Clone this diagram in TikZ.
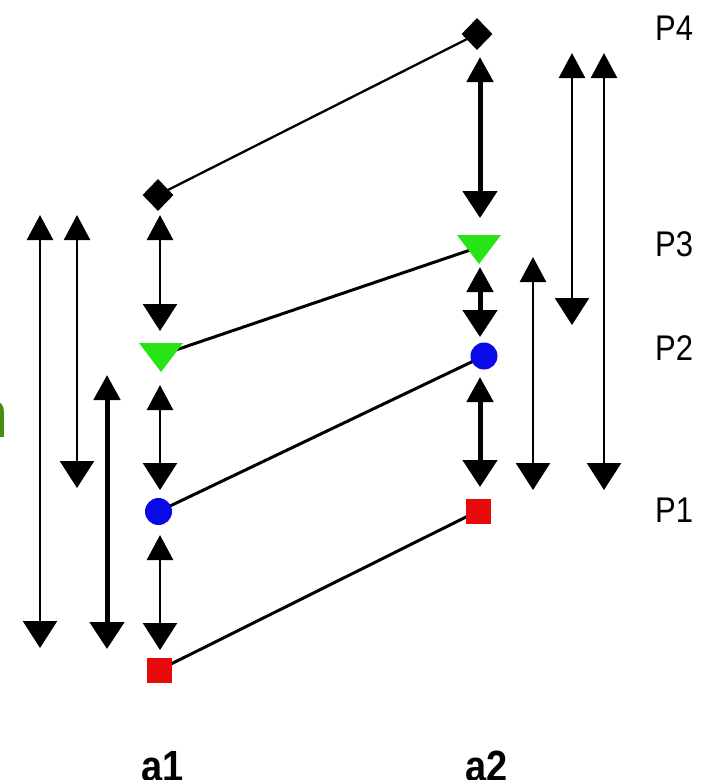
\documentclass[tikz,border=0pt]{standalone}
\usepackage{fontspec}
\setmainfont{Liberation Sans}
\usetikzlibrary{arrows.meta,shapes.geometric}
\definecolor{mkblue}{RGB}{10,10,230}
\definecolor{mkred}{RGB}{232,10,10}
\definecolor{mkgreen}{RGB}{40,228,20}
\definecolor{txtgreen}{RGB}{72,140,16}
\begin{document}
\begin{tikzpicture}[x=1pt,y=-1pt,
  conn/.style={line width=3pt},
  thinarr/.style={line width=2.5pt, arrows={Triangle[width=26pt,length=25pt]-Triangle[width=34pt,length=27pt]}},
  thickarr/.style={line width=5pt, arrows={Triangle[width=26pt,length=25pt]-Triangle[width=34pt,length=27pt]}},
  diam/.style={diamond, fill=black, inner sep=0pt, minimum width=31pt, minimum height=32pt},
  dot/.style={circle, fill=mkblue, inner sep=0pt, minimum size=27pt},
  sq/.style={rectangle, fill=mkred, inner sep=0pt, minimum size=25pt},
  plab/.style={anchor=base west, inner sep=0pt, font=\fontsize{31}{31}\selectfont},
  alab/.style={anchor=base, inner sep=0pt, font=\fontsize{38}{38}\selectfont\bfseries}
]
\useasboundingbox (0,0) rectangle (709,780);

% marker positions
\coordinate (ta) at (161,355);
\coordinate (tb) at (479,247);
\coordinate (dapos) at (158,195);
\coordinate (dbpos) at (477,34);
\coordinate (capos) at (158.5,511.5);
\coordinate (cbpos) at (484,356);
\coordinate (sapos) at (159,670);
\coordinate (sbpos) at (478,511);

% connecting lines (behind markers)
\draw[conn, line width=2.3pt] (dapos) -- (dbpos);
\draw[conn] (ta) -- (tb);
\draw[conn] (capos) -- (cbpos);
\draw[conn] (sapos) -- (sbpos);

% markers
\node[diam] (da) at (dapos) {};
\node[diam] (db) at (dbpos) {};
\fill[mkgreen, shift={(ta)}] (-22,-12) -- (22,-12) -- (0,17) -- cycle;
\fill[mkgreen, shift={(tb)}] (-22,-12) -- (22,-12) -- (0,17) -- cycle;
\node[dot] (ca) at (capos) {};
\node[dot] (cb) at (cbpos) {};
\node[sq] (sa) at (sapos) {};
\node[sq] (sb) at (sbpos) {};

% arrow end points
\coordinate (a1t) at (160,215);  \coordinate (a1b) at (160,331);
\coordinate (a2t) at (160,385);  \coordinate (a2b) at (160,490);
\coordinate (a3t) at (160,535);  \coordinate (a3b) at (160,650);
\coordinate (b1t) at (480,57);   \coordinate (b1b) at (480,218);
\coordinate (b2t) at (480,267);  \coordinate (b2b) at (480,337);
\coordinate (b3t) at (480,377);  \coordinate (b3b) at (480,487);
\coordinate (l1t) at (40,215);   \coordinate (l1b) at (40,648);
\coordinate (l2t) at (77,215);   \coordinate (l2b) at (77,488);
\coordinate (l3t) at (107,375);  \coordinate (l3b) at (107,649);
\coordinate (r1t) at (533,257);  \coordinate (r1b) at (533,490);
\coordinate (r2t) at (572,53);   \coordinate (r2b) at (572,325);
\coordinate (r3t) at (604,53);   \coordinate (r3b) at (604,490);

% arrows
\draw[thinarr] (a1t) -- (a1b);
\draw[thinarr] (a2t) -- (a2b);
\draw[thinarr] (a3t) -- (a3b);
\draw[thickarr] (b1t) -- (b1b);
\draw[thickarr] (b2t) -- (b2b);
\draw[thickarr] (b3t) -- (b3b);
\draw[thinarr] (l1t) -- (l1b);
\draw[thinarr] (l2t) -- (l2b);
\draw[thickarr] (l3t) -- (l3b);
\draw[thinarr] (r1t) -- (r1b);
\draw[thinarr] (r2t) -- (r2b);
\draw[thinarr] (r3t) -- (r3b);

% labels
\node[plab] (p4) at (655,40) {\scalebox{1}[1.15]{P4}};
\node[plab] (p3) at (655,256) {\scalebox{1}[1.15]{P3}};
\node[plab] (p2) at (655,360) {\scalebox{1}[1.15]{P2}};
\node[plab] (p1) at (655,522) {\scalebox{1}[1.15]{P1}};
\node[alab] (la1) at (162.5,781) {\scalebox{1}[1.15]{a1}};
\node[alab] (la2) at (486.5,781) {\scalebox{1}[1.15]{a2}};
\node[anchor=base east, inner sep=0pt, text=txtgreen, font=\fontsize{55}{55}\selectfont] (nlab) at (8,437) {\scalebox{1}[1.2]{n}};
\end{tikzpicture}
\end{document}
